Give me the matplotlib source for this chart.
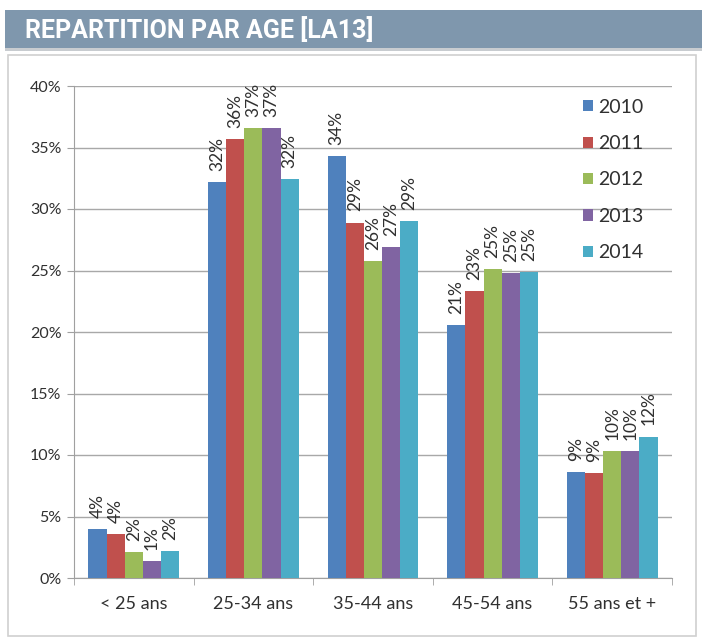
import numpy as np
import matplotlib
matplotlib.use("Agg")
import matplotlib.pyplot as plt
from matplotlib.patches import Rectangle

plt.rcParams["font.family"] = ["Lato", "DejaVu Sans"]

# Data
categories = ["< 25 ans", "25-34 ans", "35-44 ans", "45-54 ans", "55 ans et +"]
years = ["2010", "2011", "2012", "2013", "2014"]
v2010 = [4.0, 32.2, 34.3, 20.6, 8.6]
v2011 = [3.6, 35.7, 28.9, 23.3, 8.55]
v2012 = [2.1, 36.6, 25.8, 25.1, 10.3]
v2013 = [1.4, 36.6, 26.9, 24.8, 10.3]
v2014 = [2.2, 32.4, 29.0, 24.9, 11.5]
series = [v2010, v2011, v2012, v2013, v2014]
colors = ["#4F81BD", "#C0504D", "#9BBB59", "#8064A2", "#4BACC6"]
yticks = [0, 5, 10, 15, 20, 25, 30, 35, 40]

fig = plt.figure(figsize=(7.02, 6.39), dpi=100)
W, H = 702, 639

# header bar
fig.patches.append(Rectangle((5 / W, 1 - 48 / H), 697 / W, 38 / H, transform=fig.transFigure,
                             facecolor="#7F97AD", edgecolor="none", zorder=0))
fig.patches.append(Rectangle((5 / W, 1 - 51 / H), 697 / W, 3 / H, transform=fig.transFigure,
                             facecolor="#C8CCD0", edgecolor="none", zorder=0))
fig.text(25 / W, 1 - 30 / H, "REPARTITION PAR AGE [LA13]", color="white", fontsize=18,
         fontweight="bold", va="center", ha="left",
         family=["Roboto", "DejaVu Sans"])

# chart frame
fig.patches.append(Rectangle((8 / W, 3 / H), 688 / W, (H - 55 - 3) / H, transform=fig.transFigure,
                             facecolor="none", edgecolor="#D0D0D0", linewidth=1.2, zorder=0))

ax = fig.add_axes([74 / W, 61 / H, 598 / W, 492 / H])
x = np.arange(len(categories))
bw = 0.152
for i, (vals, col, yr) in enumerate(zip(series, colors, years)):
    pos = x + (i - 2) * bw
    ax.bar(pos, vals, bw, color=col, label=yr, zorder=3)
    for p, v in zip(pos, vals):
        ax.text(p, v + 0.9, "%.0f%%" % v, rotation=90, ha="center", va="bottom",
                fontsize=12.5, color="#303030", zorder=4)

ax.set_xlim(-0.5, len(categories) - 0.5)
ax.set_ylim(0, 40)
ax.set_yticks(yticks)
ax.set_yticklabels(["%d%%" % t for t in yticks])
ax.set_xticks(x)
ax.set_xticklabels(categories)
ax.set_xticks(np.arange(len(categories) + 1) - 0.5, minor=True)
ax.tick_params(axis="x", which="major", length=0, pad=13, labelsize=13, colors="#303030")
ax.tick_params(axis="x", which="minor", length=5, color="#A0A0A0")
ax.tick_params(axis="y", length=5, color="#A0A0A0", labelsize=11.5, labelcolor="#303030", pad=4)
ax.grid(axis="y", color="#A8A8A8", linewidth=1.0, zorder=0)
for s in ["top", "right"]:
    ax.spines[s].set_visible(False)
for s in ["left", "bottom"]:
    ax.spines[s].set_color("#A0A0A0")

ax.legend(loc="upper left", bbox_to_anchor=(0.822, 1.01), frameon=False, fontsize=14,
          handlelength=0.5, handleheight=0.5, handletextpad=0.3, labelspacing=1.0,
          labelcolor="#303030")

fig.savefig("out.png", dpi=100)
